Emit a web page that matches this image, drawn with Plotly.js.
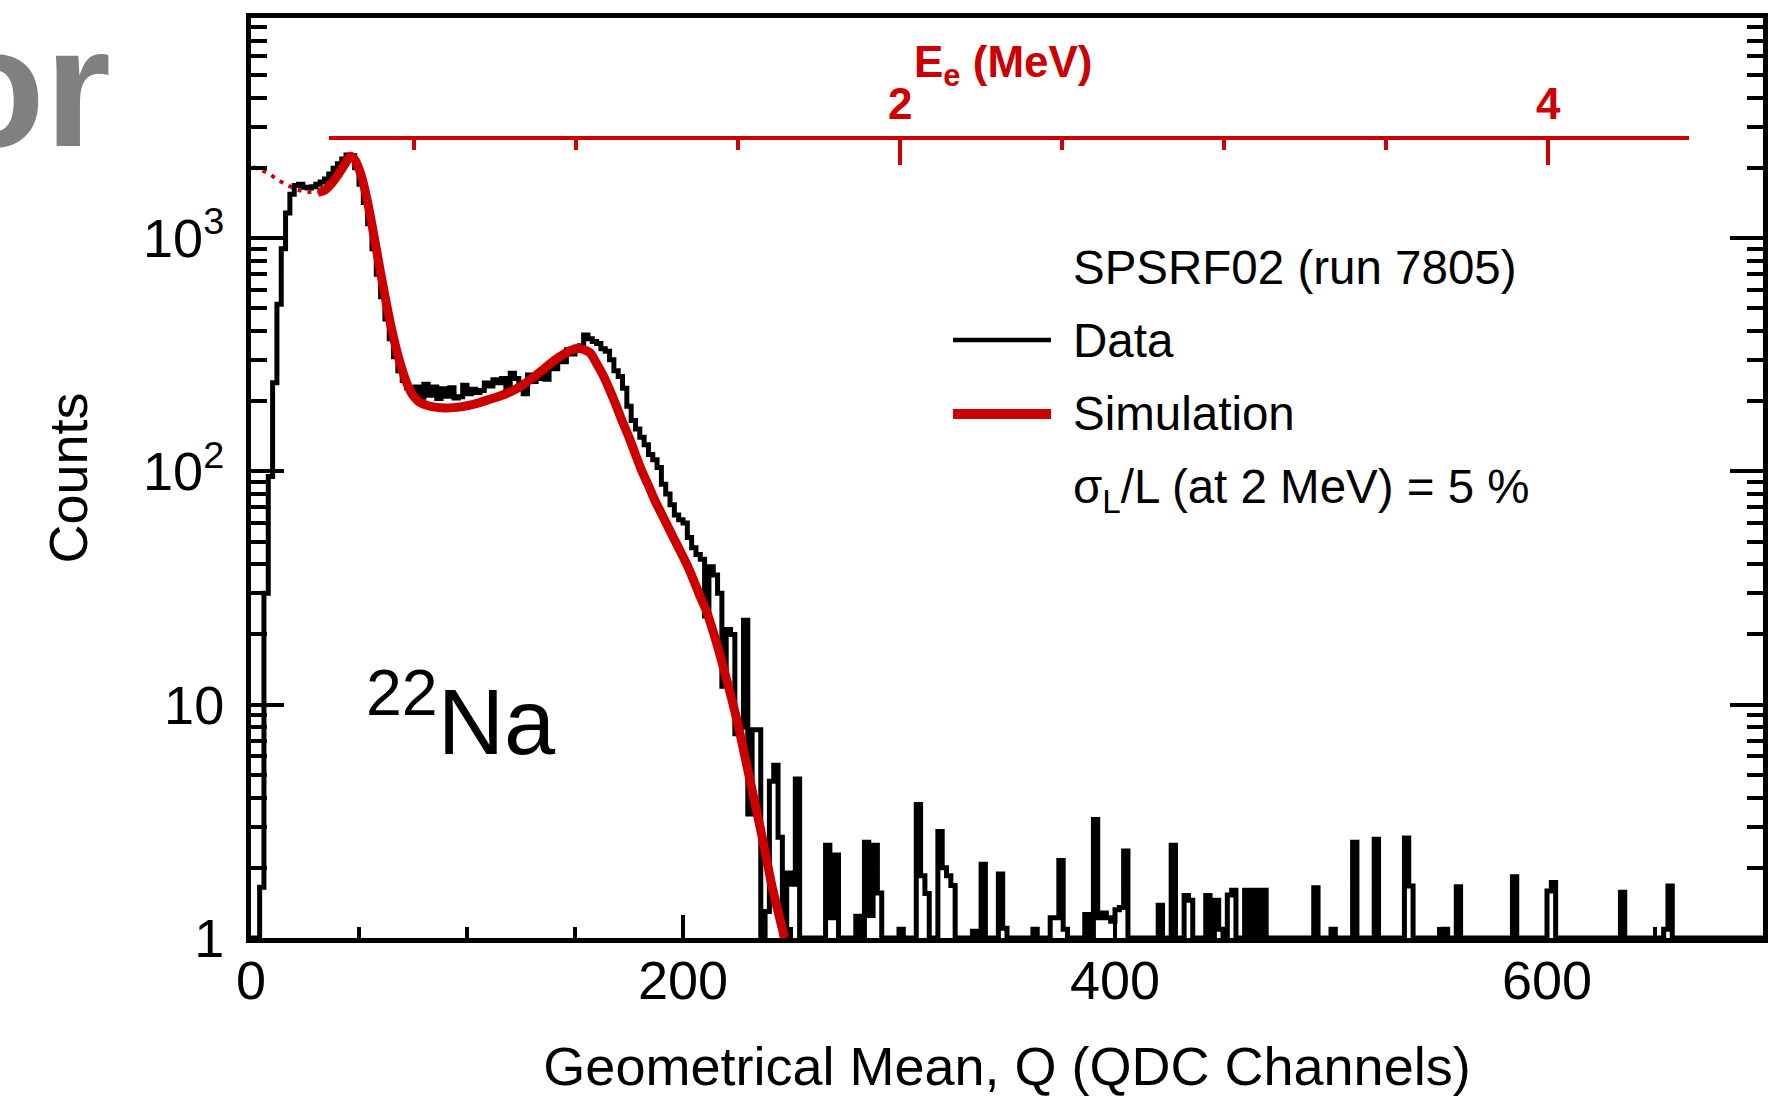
<!DOCTYPE html>
<html>
<head>
<meta charset="utf-8">
<script src="https://cdn.plot.ly/plotly-3.0.1.min.js"></script>
<style>html,body{margin:0;padding:0;background:#fff;}#chart{width:1788px;height:1096px;}</style>
</head>
<body>
<div id="chart"></div>
<script>
// ---------------- data ----------------
// histogram: bins of 2 QDC channels starting at channel 0 (counts per bin, 0 = empty)
const binStart = 0;
const binWidth = 2;
const dataCounts = [
  0, 0, 1.65, 30, 95, 240, 520, 900, 1280, 1540,
  1680, 1700, 1650, 1640, 1660, 1700, 1740, 1790, 1880, 1990,
  2080, 2180, 2270, 2250, 2000, 1700, 1420, 1150, 900, 700,
  560, 450, 370, 310, 270, 245, 228, 215, 230, 208,
  236, 212, 230, 205, 226, 210, 228, 206, 209, 234,
  215, 225, 218, 222, 239, 232, 247, 240, 250, 225,
  263, 250, 239, 215, 259, 243, 250, 259, 248, 286,
  275, 305, 295, 332, 318, 340, 345, 384, 370, 360,
  353, 335, 327, 301, 270, 255, 227, 190, 165, 152,
  140, 130, 118, 112, 104, 88, 80, 72, 65, 62,
  60, 52, 47, 44, 42, 24, 39, 36, 30, 12,
  21, 20, 7.5, 8, 23, 3.4, 7.8, 7.8, 0, 1.3,
  4.7, 5.5, 2.7, 0, 1.9, 1.7, 4.8, 0, 0, 0,
  0, 0, 0, 2.5, 1.22, 2.27, 0, 0, 0, 0,
  1.24, 0, 2.57, 1.25, 2.5, 1.56, 0, 0, 0, 0,
  1.09, 0, 0, 0, 3.73, 1.85, 1.55, 0, 0, 2.86,
  2.0, 1.85, 1.68, 0, 0, 0, 0, 1.07, 0, 2.07,
  0, 0, 0, 1.88, 1.1, 0, 0, 0, 0, 0,
  0, 1.09, 0, 0, 0, 1.22, 1.22, 2.15, 1.09, 0,
  0, 0, 0, 1.26, 0, 3.22, 1.22, 1.28, 1.22, 1.18,
  1.32, 1.35, 2.36, 0, 0, 0, 0, 0, 0, 0,
  1.38, 0, 0, 2.5, 0, 0, 1.52, 1.45, 0, 0,
  0, 1.52, 0, 1.45, 1.09, 0, 1.53, 1.6, 0, 0,
  1.6, 0, 1.6, 0, 1.6, 0, 0, 0, 0, 0,
  0, 0, 0, 0, 0, 0, 1.64, 0, 0, 0,
  1.09, 0, 0, 0, 0, 2.57, 0, 0, 0, 0,
  2.65, 0, 0, 0, 0, 0, 0, 2.68, 1.67, 0,
  0, 0, 0, 0, 0, 0, 1.09, 0, 0, 1.66,
  0, 0, 0, 0, 0, 0, 0, 0, 0, 0,
  0, 0, 1.83, 0, 0, 0, 0, 0, 0, 0,
  1.59, 1.73, 0, 0, 0, 0, 0, 0, 0, 0,
  0, 0, 0, 0, 0, 0, 0, 1.57, 0, 0,
  0, 0, 0, 0, 0, 0, 0, 1.09, 1.67, 0,
  0, 0, 0, 0, 0, 0, 0, 0, 0, 0,
  0, 0, 0, 0, 0, 0, 0, 0, 0, 0
];

// simulation (solid part, above threshold)
const simQ = [31, 34, 37, 40, 43, 46, 48, 50, 52, 54, 56, 58, 60, 62, 64, 66, 68, 70, 72, 74, 76, 78,
  82, 86, 90, 95, 100, 105, 110, 115, 120, 125, 130, 135, 140, 145,
  148, 151, 154, 157, 160, 163, 166, 169, 172, 175, 178, 181, 184, 187, 190, 193, 196, 199, 202,
  205, 208, 211, 214, 217, 220, 223, 226, 229, 232, 235, 238, 241, 244, 247];
const simCounts = [1570, 1600, 1700, 1850, 2040, 2240, 2170, 1980, 1720, 1420, 1140, 900, 710, 565, 455, 375, 315, 272, 240, 219, 206, 198,
  191, 188, 187, 188, 191, 196, 203, 210, 219, 232, 250, 272, 297, 319,
  330, 336, 333, 322, 290, 258, 224, 192, 163, 140, 118, 100, 87, 75, 66, 58, 51, 45, 39.5,
  34, 29, 25, 20.5, 16.5, 13, 10.2, 7.8, 5.8, 4.3, 3.2, 2.35, 1.7, 1.3, 1.0];
// simulation below threshold (dotted)
const simDotQ = [1, 4, 8, 12, 16, 20, 24, 28, 31];
const simDotCounts = [2010, 1970, 1890, 1790, 1700, 1635, 1590, 1572, 1570];

// axes
const xRange = [0, 700];
const xTickVals = [0, 200, 400, 600];
const yLogRange = [0, 3.943];
const yTickVals = [1, 10, 100, 1000];
const yTickText = ['1', '10', '10<sup>2</sup>', '10<sup>3</sup>'];
const yDecades = [1, 10, 100, 1000];
const yMinorDigits = [2, 3, 4, 5, 6, 7, 8, 9];
// electron-energy calibration: Q = eCalOffset + eCalSlope * E
const eCalOffset = 0.6;
const eCalSlope = 150;
const eAxisRange = [0.238, 4.435];
const eTickVals = [2, 4];

// ---------------- build ----------------
const RED = '#cc0000';
const FONT = 'Liberation Sans, Arial, Helvetica, sans-serif';

const histX = [];
const histY = [];
for (let i = 0; i < dataCounts.length; i++) {
  histX.push(binStart + i * binWidth);
  histY.push(dataCounts[i] > 0 ? dataCounts[i] : yTickVals[0]);
}
histX.push(binStart + dataCounts.length * binWidth);
histY.push(histY[histY.length - 1]);

const yMinor = [];
yDecades.forEach(d => yMinorDigits.forEach(m => yMinor.push(d * m)));

const qOf = e => eCalOffset + eCalSlope * e;
const eDomain = [qOf(eAxisRange[0]) / xRange[1], qOf(eAxisRange[1]) / xRange[1]];

const traces = [
  {x: histX, y: histY, mode: 'lines', line: {color: 'black', width: 5, shape: 'hv'}, hoverinfo: 'skip'},
  {x: simDotQ, y: simDotCounts, mode: 'lines', line: {color: RED, width: 4, dash: '4px,6px', shape: 'spline'}, hoverinfo: 'skip'},
  {x: simQ, y: simCounts, mode: 'lines', line: {color: RED, width: 9, shape: 'spline', smoothing: 0.8}, hoverinfo: 'skip'},
  {x: eAxisRange, y: [null, null], xaxis: 'x2', yaxis: 'y', mode: 'lines', hoverinfo: 'skip'}
];

const layout = {
  width: 1788, height: 1096,
  margin: {l: 251, r: 25, t: 18, b: 158},
  paper_bgcolor: 'white',
  plot_bgcolor: 'rgba(0,0,0,0)',
  showlegend: false,
  font: {family: FONT, color: 'black', size: 54},
  xaxis: {
    range: xRange, tickmode: 'array', tickvals: xTickVals,
    ticks: 'inside', ticklen: 23, tickwidth: 4, tickcolor: 'black',
    showline: true, linewidth: 5, linecolor: 'black', mirror: true,
    showgrid: false, zeroline: false,
    tickfont: {size: 54, family: FONT}, ticklabelstandoff: -9,
    minor: {tickmode: 'linear', tick0: 0, dtick: 50, ticks: 'inside', ticklen: 11, tickwidth: 4, tickcolor: 'black', showgrid: false},
    title: {text: 'Geometrical Mean, Q (QDC Channels)', font: {size: 54, family: FONT}, standoff: 56}
  },
  yaxis: {
    type: 'log', range: yLogRange, tickmode: 'array', tickvals: yTickVals, ticktext: yTickText,
    ticks: 'inside', ticklen: 33, tickwidth: 4, tickcolor: 'black',
    showline: true, linewidth: 5, linecolor: 'black', mirror: 'ticks',
    showgrid: false, zeroline: false,
    tickfont: {size: 54, family: FONT}, ticklabelstandoff: 11,
    minor: {tickmode: 'array', tickvals: yMinor, ticks: 'inside', ticklen: 16, tickwidth: 4, tickcolor: 'black', showgrid: false},
    title: {text: 'Counts', font: {size: 54, family: FONT}, standoff: 40}
  },
  xaxis2: {
    domain: eDomain, anchor: 'free', position: 0.8692, side: 'top',
    range: eAxisRange, tickmode: 'array', tickvals: eTickVals,
    ticks: 'inside', ticklen: 25, tickwidth: 4, tickcolor: RED,
    showline: true, linewidth: 4, linecolor: RED,
    showgrid: false, zeroline: false,
    tickfont: {size: 44, family: FONT, color: RED, weight: 'bold'}, ticklabelstandoff: 0,
    minor: {tickmode: 'linear', tick0: 0, dtick: 0.5, ticks: 'inside', ticklen: 10, tickwidth: 4, tickcolor: RED, showgrid: false}
  },
  shapes: [
    {type: 'line', xref: 'paper', yref: 'paper', x0: 0.4643, x1: 0.5291, y0: 0.65, y1: 0.65, line: {color: 'black', width: 4.5}},
    {type: 'line', xref: 'paper', yref: 'paper', x0: 0.4643, x1: 0.5291, y0: 0.5696, y1: 0.5696, line: {color: RED, width: 10}}
  ],
  annotations: [
    {text: 'E<sub>e</sub> (MeV)', xref: 'paper', yref: 'paper', x: 0.4974, y: 0.949, xanchor: 'center', yanchor: 'middle', showarrow: false, font: {size: 44, family: FONT, color: RED, weight: 'bold'}},
    {text: 'SPSRF02 (run 7805)', xref: 'paper', yref: 'paper', x: 0.542, y: 0.729, xanchor: 'left', yanchor: 'middle', showarrow: false, font: {size: 47.5, family: FONT}},
    {text: 'Data', xref: 'paper', yref: 'paper', x: 0.542, y: 0.65, xanchor: 'left', yanchor: 'middle', showarrow: false, font: {size: 47.5, family: FONT}},
    {text: 'Simulation', xref: 'paper', yref: 'paper', x: 0.542, y: 0.5696, xanchor: 'left', yanchor: 'middle', showarrow: false, font: {size: 47.5, family: FONT}},
    {text: 'σ<sub>L</sub>/L (at 2 MeV) = 5 %', xref: 'paper', yref: 'paper', x: 0.542, y: 0.487, xanchor: 'left', yanchor: 'middle', showarrow: false, font: {size: 47.5, family: FONT}},
    {text: '<sup>22</sup>Na', xref: 'paper', yref: 'paper', x: 0.0745, y: 0.1775, xanchor: 'left', yanchor: 'bottom', showarrow: false, font: {size: 92, family: FONT}},
    {text: 'or', xref: 'paper', yref: 'paper', x: -0.091, y: 0.925, xanchor: 'right', yanchor: 'middle', showarrow: false, font: {size: 170, family: FONT, color: '#808080', weight: 'bold'}}
  ]
};

Plotly.newPlot('chart', traces, layout, {displayModeBar: false, staticPlot: true});
</script>
</body>
</html>
